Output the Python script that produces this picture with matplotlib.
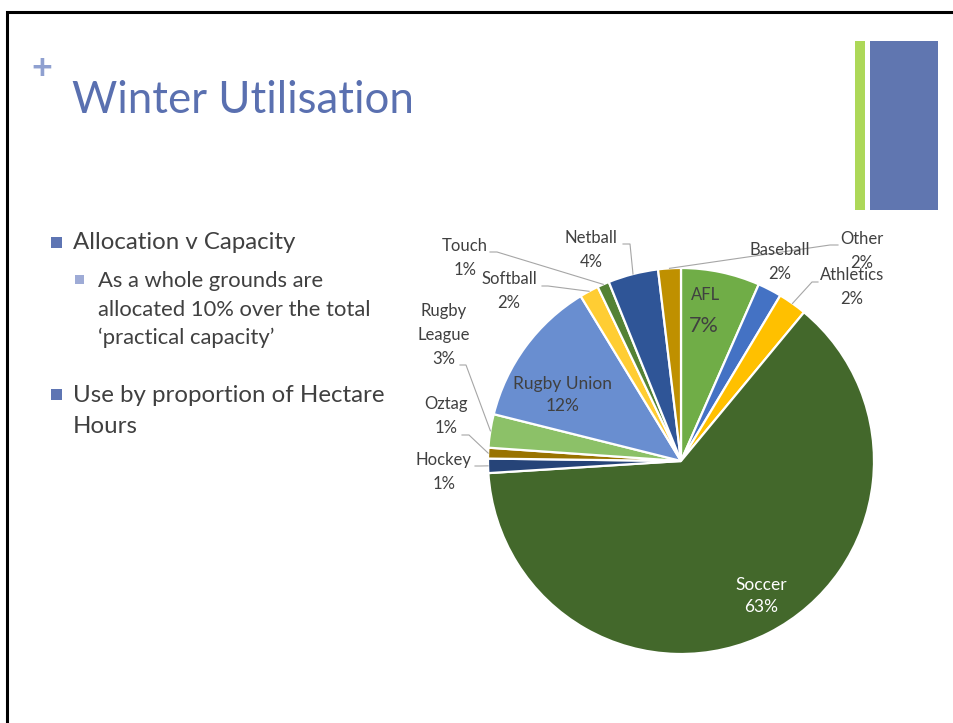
import numpy as np
import matplotlib.pyplot as plt
from matplotlib.patches import Rectangle

# Winter utilisation - share of hectare hours by sport
sports = ["AFL", "Baseball", "Athletics", "Soccer", "Hockey", "Oztag",
          "Rugby League", "Rugby Union", "Softball", "Touch", "Netball", "Other"]
share = [6.6, 2.0, 2.4, 63.0, 1.2, 0.9, 2.8, 12.4, 1.6, 1.0, 4.2, 1.9]
colours = ["#70AD47", "#4472C4", "#FFC000", "#43682B", "#264478", "#997300",
           "#8CC168", "#698ED0", "#FFCD33", "#548235", "#2F5597", "#BF9000"]

W, H = 954, 723
fig = plt.figure(figsize=(W / 100, H / 100), dpi=100)
plt.rcParams["font.family"] = ["Lato", "DejaVu Sans"]

# pie chart, placed by pixel centre and radius
cx, cy, R = 681, 461, 193
pax = fig.add_axes([(cx - R) / W, (H - cy - R) / H, 2 * R / W, 2 * R / H])
wedges, _ = pax.pie(share, colors=colours, startangle=90, counterclock=False,
                    wedgeprops=dict(edgecolor="white", linewidth=1.6))
pax.set_xlim(-1, 1)
pax.set_ylim(-1, 1)
pax.axis("off")

# slide drawn on top in pixel coordinates
bg = fig.add_axes([0, 0, 1, 1])
bg.set_xlim(0, W)
bg.set_ylim(H, 0)
bg.axis("off")
bg.set_zorder(2)

# slide frame
bg.plot([7, 7, W], [H, 12, 12], color="black", lw=2.2, solid_joinstyle="miter")

# accent bars top right
bg.add_patch(Rectangle((855, 41), 10, 169, color="#ADD858", lw=0))
bg.add_patch(Rectangle((870, 41), 68, 169, color="#6076B0", lw=0))

# title
bg.text(42, 69, "+", color="#8FA0D0", fontsize=26, fontweight="bold",
        ha="center", va="center")
bg.text(72, 113, "Winter Utilisation", color="#5A70B0", fontsize=31.5,
        ha="left", va="baseline")

# bullet text
txt = "#404040"
bg.add_patch(Rectangle((51, 237), 11, 11, color="#5E75B3", lw=0))
bg.text(73, 249, "Allocation v Capacity", color=txt, fontsize=17.3, va="baseline")
bg.add_patch(Rectangle((75, 275), 9, 9, color="#9EABD6", lw=0))
bg.text(98, 287, "As a whole grounds are", color=txt, fontsize=15.8, va="baseline")
bg.text(98, 316, "allocated 10% over the total", color=txt, fontsize=15.8, va="baseline")
bg.text(98, 344, "\u2018practical capacity\u2019", color=txt, fontsize=15.8, va="baseline")
bg.add_patch(Rectangle((51, 389), 11, 11, color="#5E75B3", lw=0))
bg.text(73, 402, "Use by proportion of Hectare", color=txt, fontsize=17.3, va="baseline")
bg.text(73, 433, "Hours", color=txt, fontsize=17.3, va="baseline")

labels = [f"{s}\n{v:.0f}%" for s, v in zip(sports, share)]


def edge_point(w, r=1.0):
    a = np.deg2rad((w.theta1 + w.theta2) / 2)
    return cx + R * r * np.cos(a), cy - R * r * np.sin(a)


# outside labels: text centre, leader start, leader elbow
outside = {
    "Touch": ((465, 258), (490, 252), (497, 252)),
    "Softball": ((509, 291), (542, 286), (548, 286)),
    "Netball": ((591, 250), (623, 244), (630, 244)),
    "Rugby League": ((444, 335), (460, 365), (466, 365)),
    "Oztag": ((446, 416), (462, 435), (469, 435)),
    "Hockey": ((444, 472), (475, 466), (480, 466)),
    "Baseball": ((780, 262), None, None),
    "Other": ((862, 251), (838, 245), (830, 245)),
    "Athletics": ((852, 287), (818, 282), (812, 282)),
}
for i, name in enumerate(sports):
    if name not in outside:
        continue
    (tx, ty), p0, p1 = outside[name]
    text = labels[i].replace("Rugby League", "Rugby\nLeague")
    bg.text(tx, ty, text, color=txt, fontsize=12, ha="center", va="center",
            linespacing=1.6, zorder=4)
    if p0 is not None:
        ex, ey = edge_point(wedges[i])
        bg.plot([p0[0], p1[0], ex], [p0[1], p1[1], ey], color="#A6A6A6",
                lw=0.8, zorder=3)

# labels inside the slices
i = sports.index("AFL")
bg.text(706, 295, sports[i], color=txt, fontsize=12, ha="center", va="center")
bg.text(704, 326, f"{share[i]:.0f}%", color=txt, fontsize=15.5, ha="center", va="center")
i = sports.index("Rugby Union")
bg.text(563, 395, labels[i], color=txt, fontsize=12.5, ha="center", va="center",
        linespacing=1.5)
i = sports.index("Soccer")
bg.text(761, 596, labels[i], color="white", fontsize=12.5, ha="center", va="center",
        linespacing=1.5)

fig.savefig("out.png", dpi=100)
